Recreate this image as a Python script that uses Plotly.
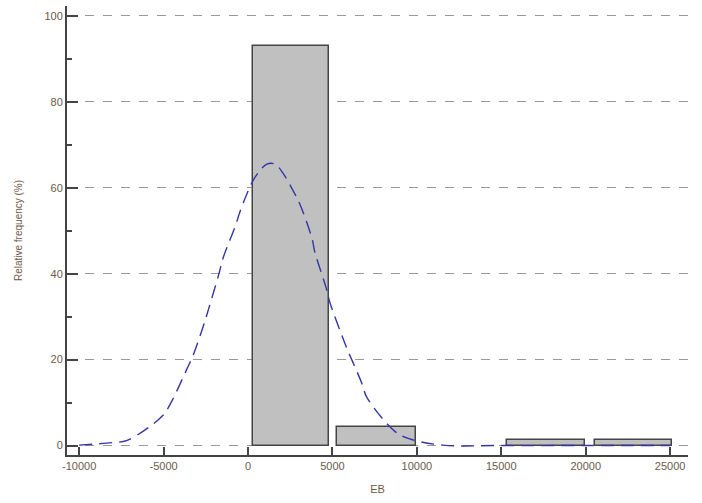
import plotly.graph_objects as go

# Histogram bins (EB) and relative frequencies (%)
bin_centers = [2550, 7600, 17650, 22850]
bin_widths = [4500, 4650, 4600, 4550]
bin_freq = [93.0, 4.4, 1.3, 1.3]

# Fitted normal curve
curve_x = [-10000, -8000, -7160, -5090, -4560, -3610, -3250, -2540, -2310, -1720, -1480,
           -710, -470, 410, 1120, 1600, 2070, 2660, 3080, 3790, 3960, 4620, 4850, 5560,
           5860, 6750, 7040, 8700, 9530, 11540, 15000, 20000, 25000]
curve_y = [0.1, 0.7, 1.2, 6.8, 10.0, 17.9, 21.0, 29.1, 32.1, 40.0, 43.6,
           51.5, 54.5, 62.4, 65.5, 65.5, 63.4, 59.4, 56.1, 48.2, 45.0, 36.8, 33.3, 25.6,
           22.6, 14.4, 11.2, 3.3, 1.6, 0.1, 0.0, 0.0, 0.0]

x_ticks = [-10000, -5000, 0, 5000, 10000, 15000, 20000, 25000]
y_ticks = [0, 20, 40, 60, 80, 100]

text_col = "#6b5a4a"
axis_col = "#444444"

fig = go.Figure()
fig.add_trace(go.Bar(
    x=bin_centers, y=bin_freq, width=bin_widths,
    marker=dict(color="#c0c0c0", line=dict(color="#444444", width=1.5)),
    showlegend=False,
))
fig.add_trace(go.Scatter(
    x=curve_x, y=curve_y, mode="lines",
    line=dict(color="#3535a8", width=1.4, dash="13px,7px", shape="spline"),
    showlegend=False,
))

fig.update_layout(
    width=702, height=503,
    margin=dict(l=67, r=14, t=6, b=48),
    paper_bgcolor="white", plot_bgcolor="white",
    font=dict(family="Liberation Sans, Arial, sans-serif", size=11, color=text_col),
    bargap=0,
)
fig.update_xaxes(
    range=[-10719, 26057],
    tickvals=x_ticks, ticktext=[str(v) for v in x_ticks],
    showgrid=False, zeroline=False,
    showline=True, linecolor=axis_col, linewidth=2,
    ticks="inside", ticklen=8, tickcolor=axis_col, tickwidth=2,
    tickfont=dict(size=11, color=text_col),
    title=dict(text="EB", font=dict(size=11, color=text_col), standoff=14),
)
fig.update_yaxes(
    range=[-2.2, 102.3],
    tickvals=y_ticks,
    showgrid=True, gridcolor="#999999", gridwidth=1.2, griddash="dash",
    zeroline=False,
    showline=True, linecolor=axis_col, linewidth=2,
    ticks="inside", ticklen=11, tickcolor=axis_col, tickwidth=2,
    minor=dict(dtick=10, tick0=0, ticks="inside", ticklen=5, tickcolor=axis_col, tickwidth=2, showgrid=False),
    tickfont=dict(size=11, color=text_col),
    title=dict(text="Relative frequency (%)", font=dict(size=10, color=text_col), standoff=20),
)

fig.write_html("out.html")
